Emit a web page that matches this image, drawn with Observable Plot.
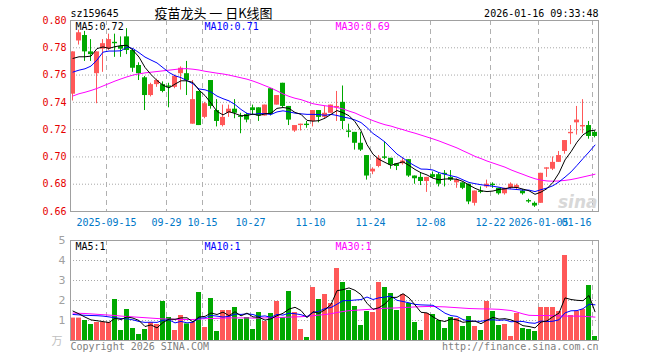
<!DOCTYPE html>
<html><head><meta charset="utf-8">
<script src="https://cdn.jsdelivr.net/npm/d3@7"></script>
<script src="https://cdn.jsdelivr.net/npm/@observablehq/plot@0.6"></script>
<style>
body{margin:0;background:#fff;}
#wrap{position:relative;width:660px;height:360px;overflow:hidden;background:#fff;}
#price,#vol{position:absolute;left:0;}
#price{top:0;}
#vol{top:232px;}
</style></head><body><div id="wrap"><div id="price"></div><div id="vol"></div></div>
<script>
const dates=["2025-09-05","2025-09-08","2025-09-09","2025-09-10","2025-09-11","2025-09-12","2025-09-15","2025-09-16","2025-09-17","2025-09-18","2025-09-19","2025-09-22","2025-09-23","2025-09-24","2025-09-25","2025-09-26","2025-09-29","2025-09-30","2025-10-09","2025-10-10","2025-10-13","2025-10-14","2025-10-15","2025-10-16","2025-10-17","2025-10-20","2025-10-21","2025-10-22","2025-10-23","2025-10-24","2025-10-27","2025-10-28","2025-10-29","2025-10-30","2025-10-31","2025-11-03","2025-11-04","2025-11-05","2025-11-06","2025-11-07","2025-11-10","2025-11-11","2025-11-12","2025-11-13","2025-11-14","2025-11-17","2025-11-18","2025-11-19","2025-11-20","2025-11-21","2025-11-24","2025-11-25","2025-11-26","2025-11-27","2025-11-28","2025-12-01","2025-12-02","2025-12-03","2025-12-04","2025-12-05","2025-12-08","2025-12-09","2025-12-10","2025-12-11","2025-12-12","2025-12-15","2025-12-16","2025-12-17","2025-12-18","2025-12-19","2025-12-22","2025-12-23","2025-12-24","2025-12-25","2025-12-26","2025-12-29","2025-12-30","2025-12-31","2026-01-05","2026-01-06","2026-01-07","2026-01-08","2026-01-09","2026-01-12","2026-01-13","2026-01-14","2026-01-15","2026-01-16"];
const open=[0.746,0.785,0.789,0.777,0.761,0.779,0.779,0.784,0.781,0.788,0.778,0.767,0.758,0.745,0.753,0.753,0.752,0.751,0.761,0.761,0.724,0.748,0.729,0.756,0.734,0.723,0.732,0.735,0.730,0.731,0.736,0.736,0.730,0.750,0.738,0.754,0.737,0.719,0.723,0.724,0.726,0.734,0.729,0.732,0.736,0.740,0.719,0.718,0.710,0.701,0.689,0.693,0.700,0.699,0.695,0.695,0.698,0.686,0.685,0.682,0.687,0.687,0.688,0.685,0.681,0.681,0.680,0.666,0.675,0.678,0.680,0.677,0.673,0.677,0.677,0.675,0.668,0.666,0.666,0.691,0.691,0.696,0.704,0.717,0.725,0.722,0.723,0.718];
const close=[0.777,0.791,0.777,0.775,0.777,0.783,0.786,0.783,0.779,0.778,0.765,0.761,0.745,0.753,0.756,0.748,0.751,0.759,0.765,0.756,0.742,0.723,0.739,0.737,0.726,0.729,0.735,0.732,0.729,0.727,0.734,0.730,0.738,0.731,0.745,0.737,0.727,0.723,0.724,0.723,0.734,0.729,0.732,0.738,0.737,0.726,0.718,0.710,0.705,0.686,0.691,0.699,0.699,0.694,0.693,0.697,0.686,0.684,0.682,0.685,0.685,0.680,0.687,0.683,0.683,0.677,0.667,0.675,0.674,0.680,0.679,0.673,0.677,0.680,0.679,0.673,0.667,0.664,0.688,0.692,0.696,0.701,0.712,0.718,0.727,0.723,0.715,0.715];
const high=[0.777,0.793,0.792,0.786,0.777,0.786,0.790,0.790,0.788,0.794,0.779,0.769,0.759,0.754,0.757,0.755,0.754,0.760,0.766,0.770,0.756,0.748,0.740,0.756,0.742,0.738,0.738,0.742,0.732,0.732,0.738,0.736,0.738,0.750,0.745,0.754,0.737,0.723,0.724,0.726,0.734,0.734,0.737,0.738,0.748,0.752,0.724,0.718,0.718,0.701,0.692,0.701,0.711,0.699,0.695,0.699,0.698,0.686,0.688,0.685,0.689,0.688,0.690,0.690,0.684,0.681,0.680,0.675,0.678,0.683,0.681,0.677,0.677,0.681,0.680,0.676,0.669,0.667,0.688,0.692,0.700,0.704,0.712,0.723,0.737,0.742,0.726,0.719];
const low=[0.741,0.782,0.770,0.770,0.739,0.762,0.778,0.773,0.773,0.775,0.762,0.756,0.734,0.744,0.751,0.747,0.736,0.750,0.749,0.745,0.724,0.723,0.728,0.735,0.722,0.722,0.729,0.728,0.717,0.725,0.731,0.726,0.730,0.730,0.738,0.736,0.723,0.718,0.719,0.721,0.722,0.725,0.728,0.732,0.726,0.720,0.714,0.705,0.704,0.683,0.687,0.692,0.698,0.691,0.690,0.694,0.685,0.680,0.679,0.674,0.684,0.678,0.678,0.682,0.677,0.676,0.665,0.664,0.673,0.677,0.677,0.672,0.672,0.676,0.676,0.672,0.666,0.663,0.666,0.685,0.690,0.696,0.702,0.709,0.716,0.717,0.713,0.714];
const ma5=[0.7722,0.7734,0.7734,0.7739,0.7794,0.7806,0.7796,0.7808,0.7816,0.7818,0.7782,0.7732,0.7656,0.7604,0.7560,0.7526,0.7506,0.7534,0.7558,0.7558,0.7546,0.7490,0.7450,0.7394,0.7334,0.7308,0.7332,0.7318,0.7302,0.7304,0.7314,0.7304,0.7316,0.7320,0.7356,0.7362,0.7356,0.7326,0.7312,0.7268,0.7262,0.7266,0.7284,0.7312,0.7340,0.7324,0.7302,0.7258,0.7192,0.7090,0.7020,0.6982,0.6960,0.6938,0.6952,0.6964,0.6938,0.6908,0.6884,0.6868,0.6844,0.6832,0.6838,0.6840,0.6836,0.6820,0.6794,0.6770,0.6752,0.6746,0.6750,0.6762,0.6766,0.6778,0.6776,0.6764,0.6752,0.6726,0.6742,0.6768,0.6814,0.6882,0.6978,0.7038,0.7108,0.7162,0.7190,0.7196];
const ma10=[0.7622,0.7636,0.7646,0.7666,0.7710,0.7768,0.7776,0.7776,0.7778,0.7806,0.7794,0.7764,0.7732,0.7710,0.7689,0.7654,0.7619,0.7595,0.7581,0.7559,0.7536,0.7498,0.7492,0.7476,0.7446,0.7427,0.7411,0.7384,0.7348,0.7319,0.7311,0.7318,0.7317,0.7311,0.7330,0.7338,0.7330,0.7321,0.7316,0.7312,0.7312,0.7311,0.7305,0.7312,0.7304,0.7293,0.7284,0.7271,0.7252,0.7215,0.7172,0.7142,0.7109,0.7065,0.7021,0.6992,0.6960,0.6934,0.6911,0.6910,0.6904,0.6885,0.6873,0.6862,0.6852,0.6832,0.6813,0.6804,0.6796,0.6791,0.6785,0.6778,0.6768,0.6765,0.6761,0.6757,0.6757,0.6746,0.6760,0.6772,0.6789,0.6817,0.6852,0.6890,0.6938,0.6988,0.7036,0.7087];
const ma30=[0.7447,0.7463,0.7474,0.7487,0.7502,0.7520,0.7538,0.7556,0.7572,0.7587,0.7600,0.7609,0.7616,0.7621,0.7626,0.7631,0.7636,0.7641,0.7646,0.7647,0.7643,0.7637,0.7628,0.7621,0.7614,0.7608,0.7600,0.7590,0.7580,0.7570,0.7556,0.7540,0.7522,0.7505,0.7484,0.7462,0.7444,0.7430,0.7420,0.7405,0.7390,0.7382,0.7375,0.7370,0.7362,0.7352,0.7336,0.7322,0.7302,0.7284,0.7266,0.7250,0.7236,0.7226,0.7212,0.7200,0.7186,0.7174,0.7160,0.7146,0.7132,0.7117,0.7100,0.7083,0.7066,0.7045,0.7025,0.7004,0.6988,0.6970,0.6955,0.6940,0.6925,0.6905,0.6888,0.6872,0.6855,0.6840,0.6830,0.6824,0.6822,0.6824,0.6828,0.6834,0.6843,0.6853,0.6863,0.6873];
const volume=[1.12,1.12,1.0,0.8,0.9,0.9,0.9,2.05,0.5,1.55,0.6,0.3,0.55,0.9,0.8,1.95,1.15,0.5,1.25,0.83,0.9,2.4,0.65,2.1,0.45,1.5,1.5,1.65,1.05,1.15,0.55,1.4,0.95,1.35,1.95,1.15,2.45,1.4,0.55,0.15,2.65,2.05,2.3,1.85,3.6,2.9,2.5,1.7,0.75,1.45,1.4,2.9,2.65,2.35,1.5,2.3,1.85,0.9,0.5,1.35,1.3,1.0,0.6,1.15,1.1,0.7,1.2,0.7,0.5,1.95,1.45,0.75,0.8,0.2,1.35,0.6,0.55,0.45,1.65,1.65,1.65,1.45,4.25,1.25,1.45,1.55,2.75,0.2];
const volMa5=[1.47,1.33,1.17,1.03,0.988,0.944,0.90,1.11,1.05,1.18,1.12,1.00,0.70,0.78,0.63,0.90,1.07,1.06,1.13,1.136,0.926,1.176,1.206,1.376,1.30,1.42,1.24,1.44,1.23,1.37,1.18,1.16,1.02,1.08,1.24,1.36,1.57,1.66,1.50,1.14,1.44,1.36,1.54,1.80,2.49,2.54,2.63,2.51,2.29,1.86,1.56,1.64,1.83,2.15,2.16,2.34,2.13,1.78,1.41,1.38,1.18,1.01,0.95,1.08,1.03,0.91,0.95,0.97,0.84,1.01,1.16,1.07,1.09,1.03,0.91,0.74,0.70,0.63,0.92,0.98,1.19,1.37,2.13,2.05,2.01,1.99,2.25,1.44];
const volMa10=[1.30,1.28,1.26,1.25,1.24,1.22,1.18,1.14,1.10,1.084,1.032,0.95,0.905,0.915,0.905,1.01,1.035,0.88,0.955,0.883,0.913,1.123,1.133,1.253,1.218,1.173,1.208,1.323,1.303,1.335,1.30,1.20,1.23,1.155,1.305,1.27,1.365,1.34,1.29,1.19,1.40,1.465,1.60,1.65,1.815,1.99,1.995,2.025,2.045,2.175,2.05,2.135,2.17,2.22,2.01,1.95,1.885,1.805,1.78,1.77,1.76,1.57,1.365,1.245,1.205,1.045,0.98,0.96,0.96,1.02,1.035,1.01,1.03,0.935,0.96,0.95,0.885,0.86,0.975,0.945,0.965,1.035,1.38,1.485,1.495,1.59,1.81,1.785];
const volMa30=[1.37,1.36,1.35,1.33,1.31,1.29,1.27,1.25,1.22,1.20,1.18,1.16,1.14,1.12,1.10,1.08,1.07,1.06,1.05,1.05,1.05,1.07,1.09,1.10,1.11,1.12,1.13,1.13,1.13,1.13,1.12,1.12,1.13,1.14,1.15,1.16,1.17,1.18,1.19,1.21,1.24,1.27,1.30,1.34,1.40,1.45,1.49,1.51,1.53,1.55,1.57,1.59,1.61,1.62,1.63,1.65,1.66,1.68,1.69,1.70,1.70,1.69,1.68,1.66,1.64,1.62,1.60,1.59,1.58,1.58,1.57,1.56,1.53,1.50,1.42,1.33,1.26,1.25,1.25,1.25,1.24,1.23,1.22,1.22,1.22,1.21,1.19,1.17];
const tickDates=["2025-09-15","2025-09-29","2025-10-15","2025-10-27","2025-11-10","2025-11-24","2025-12-08","2025-12-22","2026-01-05","2026-01-16"];
const tickLabels=["2025-09-15","09-29","10-15","10-27","11-10","11-24","12-08","12-22","2026-01-05","01-16"];
const priceTicks=[0.66,0.68,0.70,0.72,0.74,0.76,0.78,0.80];
const volTicks=[1,2,3,4,5];

const UP="#ff5858", DOWN="#00a800";
const mono="'DejaVu Sans Mono', 'Liberation Mono', monospace";
const rows=dates.map((d,i)=>({date:d,open:open[i],close:close[i],high:high[i],low:low[i],ma5:ma5[i],ma10:ma10[i],ma30:ma30[i],vol:volume[i],vma5:volMa5[i],vma10:volMa10[i],vma30:volMa30[i]}));
const col=d=>d.close>=d.open?UP:DOWN;
const ticks=tickDates.map((d,i)=>({date:d,label:tickLabels[i]}));

const price=Plot.plot({
  width:660,height:232,marginLeft:70,marginRight:62,marginTop:20,marginBottom:21,
  x:{type:"band",domain:dates,padding:0,axis:null},
  y:{domain:[0.66,0.80],axis:null},
  color:{type:"identity"},
  style:{fontFamily:mono,fontSize:"10px",background:"transparent",overflow:"visible"},
  marks:[
    Plot.ruleY(priceTicks.slice(1,-1),{stroke:"#a8a8a8",strokeDasharray:"1,2"}),
    Plot.ruleX(ticks,{x:"date",dx:-3,stroke:"#b0b0b0",strokeDasharray:"5,4"}),
    Plot.ruleX(rows,{x:"date",y1:"low",y2:"high",stroke:col,dx:-1}),
    Plot.barY(rows,{x:"date",y1:"open",y2:"close",fill:col,insetLeft:0,insetRight:1}),
    Plot.line(rows,{x:"date",y:"ma30",stroke:"#ff00ff",strokeWidth:1,dx:-0.5}),
    Plot.line(rows,{x:"date",y:"ma10",stroke:"#0000ff",strokeWidth:1,dx:-0.5}),
    Plot.line(rows,{x:"date",y:"ma5",stroke:"#000000",strokeWidth:1,dx:-0.5}),
    Plot.frame({stroke:"#a0a0a0"}),
    Plot.text(priceTicks,{y:d=>d,text:d=>d.toFixed(2),frameAnchor:"left",textAnchor:"end",dx:-4,fill:"#e60000"}),
    Plot.text(ticks.slice(0,-1),{x:"date",text:"label",frameAnchor:"bottom",lineAnchor:"middle",dy:11,dx:-3,fill:"#0078c8"}),
    Plot.text(ticks.slice(-1),{x:"date",text:"label",frameAnchor:"bottom",lineAnchor:"middle",dy:11,dx:-4,textAnchor:"end",fill:"#0078c8"}),
    Plot.text(["MA5:"+ma5[ma5.length-1].toFixed(2)],{frameAnchor:"top-left",textAnchor:"start",lineAnchor:"middle",dx:5,dy:6,fill:"#000"}),
    Plot.text(["MA10:"+ma10[ma10.length-1].toFixed(2)],{frameAnchor:"top-left",textAnchor:"start",lineAnchor:"middle",dx:134,dy:6,fill:"#0000ff"}),
    Plot.text(["MA30:"+ma30[ma30.length-1].toFixed(2)],{frameAnchor:"top-left",textAnchor:"start",lineAnchor:"middle",dx:265,dy:6,fill:"#ff00ff"}),
    Plot.text(["sz159645"],{frameAnchor:"top-left",textAnchor:"start",lineAnchor:"middle",dx:0,dy:-7,fill:"#000"}),
    Plot.text(["疫苗龙头 一 日K线图"],{frameAnchor:"top-left",textAnchor:"middle",lineAnchor:"middle",dx:143,dy:-7,fill:"#000",fontFamily:"'Noto Sans CJK SC', sans-serif",fontSize:13}),
    Plot.text(["2026-01-16 09:33:48"],{frameAnchor:"top-right",textAnchor:"end",lineAnchor:"middle",dx:0,dy:-7,fill:"#000"}),
    Plot.text(["sina"],{frameAnchor:"bottom-right",textAnchor:"end",lineAnchor:"bottom",dx:-1,dy:-4,fill:"#d8d8d8",fontFamily:"'DejaVu Sans', sans-serif",fontSize:17,fontWeight:"bold",fontStyle:"italic"})
  ]
});
document.getElementById("price").appendChild(price);

const vol=Plot.plot({
  width:660,height:128,marginLeft:70,marginRight:62,marginTop:8,marginBottom:20,
  x:{type:"band",domain:dates,padding:0,axis:null},
  y:{domain:[0,5],axis:null},
  color:{type:"identity"},
  style:{fontFamily:mono,fontSize:"10px",background:"transparent",overflow:"visible"},
  marks:[
    Plot.ruleY(volTicks.slice(0,-1),{stroke:"#a8a8a8",strokeDasharray:"1,2"}),
    Plot.ruleX(ticks,{x:"date",dx:-3,stroke:"#b0b0b0",strokeDasharray:"5,4"}),
    Plot.barY(rows,{x:"date",y:"vol",fill:col,insetLeft:0,insetRight:1}),
    Plot.line(rows,{x:"date",y:"vma30",stroke:"#ff00ff",strokeWidth:1,dx:-0.5}),
    Plot.line(rows,{x:"date",y:"vma10",stroke:"#0000ff",strokeWidth:1,dx:-0.5}),
    Plot.line(rows,{x:"date",y:"vma5",stroke:"#000000",strokeWidth:1,dx:-0.5}),
    Plot.frame({stroke:"#a0a0a0"}),
    Plot.text(volTicks,{y:d=>d,text:d=>String(d),frameAnchor:"left",textAnchor:"end",dx:-5,fill:"#a0a0a0",fontFamily:"'DejaVu Sans', sans-serif",fontSize:11}),
    Plot.text(["万"],{frameAnchor:"bottom-left",textAnchor:"end",lineAnchor:"middle",dx:-8,dy:1,fill:"#c0c0c0",fontFamily:"'Noto Sans CJK SC', sans-serif",fontSize:11}),
    Plot.text(["MA5:"+Math.round(volMa5[volMa5.length-1])],{frameAnchor:"top-left",textAnchor:"start",lineAnchor:"middle",dx:5,dy:6,fill:"#000"}),
    Plot.text(["MA10:"+Math.round(volMa10[volMa10.length-1]-0.3)],{frameAnchor:"top-left",textAnchor:"start",lineAnchor:"middle",dx:134,dy:6,fill:"#0000ff"}),
    Plot.text(["MA30:"+Math.round(volMa30[volMa30.length-1])],{frameAnchor:"top-left",textAnchor:"start",lineAnchor:"middle",dx:265,dy:6,fill:"#ff00ff"}),
    Plot.text(["Copyright 2026 SINA.COM"],{frameAnchor:"bottom-left",textAnchor:"start",lineAnchor:"middle",dx:0,dy:6,fill:"#808080"}),
    Plot.text(["http://finance.sina.com.cn"],{frameAnchor:"bottom-right",textAnchor:"end",lineAnchor:"middle",dx:0,dy:6,fill:"#808080"})
  ]
});
document.getElementById("vol").appendChild(vol);
</script></body></html>
